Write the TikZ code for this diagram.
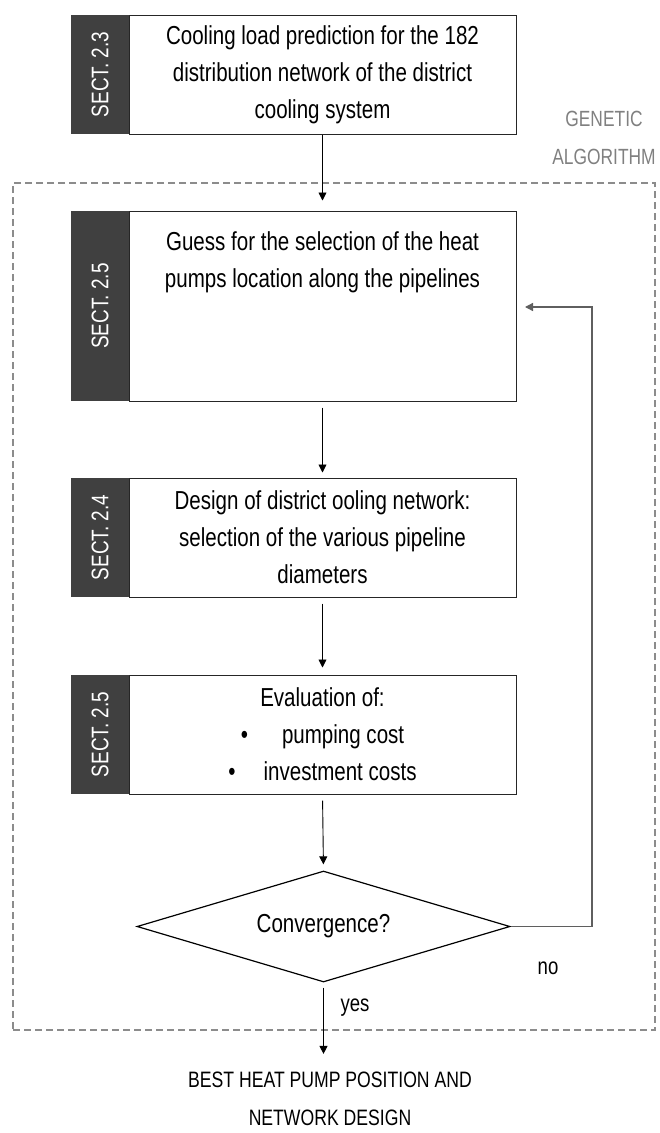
\documentclass[tikz,border=0pt]{standalone}
\usepackage{fontspec}
\setmainfont{Liberation Sans}[FakeStretch=0.79]
\usetikzlibrary{arrows.meta,shapes.geometric}
\definecolor{tabgray}{HTML}{404040}
\definecolor{dashgray}{HTML}{8C8C8C}
\definecolor{fbgray}{HTML}{5F5F5F}
\definecolor{gatext}{HTML}{808080}
\definecolor{edgegray}{HTML}{262626}
\begin{document}
\begin{tikzpicture}[x=1pt,y=-1pt,
  wbox/.style={draw=edgegray, line width=1pt, fill=white, minimum width=387pt,
    inner sep=0pt, align=center, font=\fontsize{26}{37}\selectfont},
  tabbox/.style={fill=tabgray, rotate=90, minimum height=58pt, inner sep=0pt,
    text=white, font=\fontsize{24}{28}\selectfont},
  btext/.style={inner sep=0pt, align=center, font=\fontsize{26}{37}\selectfont},
  arr/.style={-{Triangle[length=8pt,width=8pt]}, line width=0.9pt, draw=black},
  fbline/.style={-{Triangle[length=8pt,width=8pt]}, line width=1.3pt, draw=fbgray},
  gabox/.style={draw=dashgray, line width=1.2pt, dash pattern=on 7pt off 4pt, inner sep=0pt},
  lbl/.style={inner sep=0pt, font=\fontsize{23.5}{28}\selectfont}
]
\useasboundingbox (0,0) rectangle (659,1133);

% genetic algorithm frame
\node[gabox, minimum width=642pt, minimum height=847pt] (ga) at (334,606.5) {};
\node[text=gatext, inner sep=0pt, align=center, font=\fontsize{22}{38}\selectfont] (galabel) at (604,138) {GENETIC\\ALGORITHM};

% box 1
\node[wbox, minimum height=119pt] (b1) at (322.5,74.5) {Cooling load prediction for the 182\\distribution network of the district\\cooling system};
\node[tabbox, minimum width=119pt] (s1) at (100,74.5) {SECT. 2.3};

% box 2
\node[wbox, minimum height=190pt] (b2) at (322.5,306) {};
\node[tabbox, minimum width=190pt] (s2) at (100,306) {SECT. 2.5};
\node[btext, anchor=north] (t2) at (322.5,231) {Guess for the selection of the heat\\pumps location along the pipelines};

% box 3
\node[wbox, minimum height=119pt] (b3) at (322.5,537.5) {Design of district ooling network:\\selection of the various pipeline\\diameters};
\node[tabbox, minimum width=119pt] (s3) at (100,537.5) {SECT. 2.4};

% box 4
\node[wbox, minimum height=119pt] (b4) at (322.5,734.5) {Evaluation of:\\\textbullet\hspace{34pt}pumping cost\\\textbullet\hspace{28pt}investment costs};
\node[tabbox, minimum width=119pt] (s4) at (100,734.5) {SECT. 2.5};

% decision
\node[diamond, draw=black, line width=1.2pt, aspect=3.36, minimum width=373pt, minimum height=111pt,
  inner sep=0pt, font=\fontsize{26}{37}\selectfont] (dia) at (323.5,926.5) {Convergence?};

% result
\node[inner sep=0pt, align=center, font=\fontsize{22.3}{38}\selectfont] (res) at (330,1099) {BEST HEAT PUMP POSITION AND\\NETWORK DESIGN};

% labels
\node[lbl] (yes) at (355,1008) {yes};
\node[lbl] (no) at (548,968) {no};

% connectors
\draw[arr, shorten >=10pt] (b1.south) -- (b2.north);
\draw[arr, shorten <=6pt, shorten >=5pt] (b2.south) -- (b3.north);
\draw[arr, shorten <=6pt, shorten >=7pt] (b3.south) -- (b4.north);
\draw[arr, shorten <=6pt, shorten >=6pt] (b4.south) -- (dia.north);
\draw[arr, shorten <=5pt, shorten >=18pt] (dia.south) -- (dia.south |- res.north);

\coordinate (fbcorner) at (592,307);
\coordinate (fbend) at (525,307);
\draw[fbline] (dia.east) -| (fbcorner) -- (fbend);
\end{tikzpicture}
\end{document}
